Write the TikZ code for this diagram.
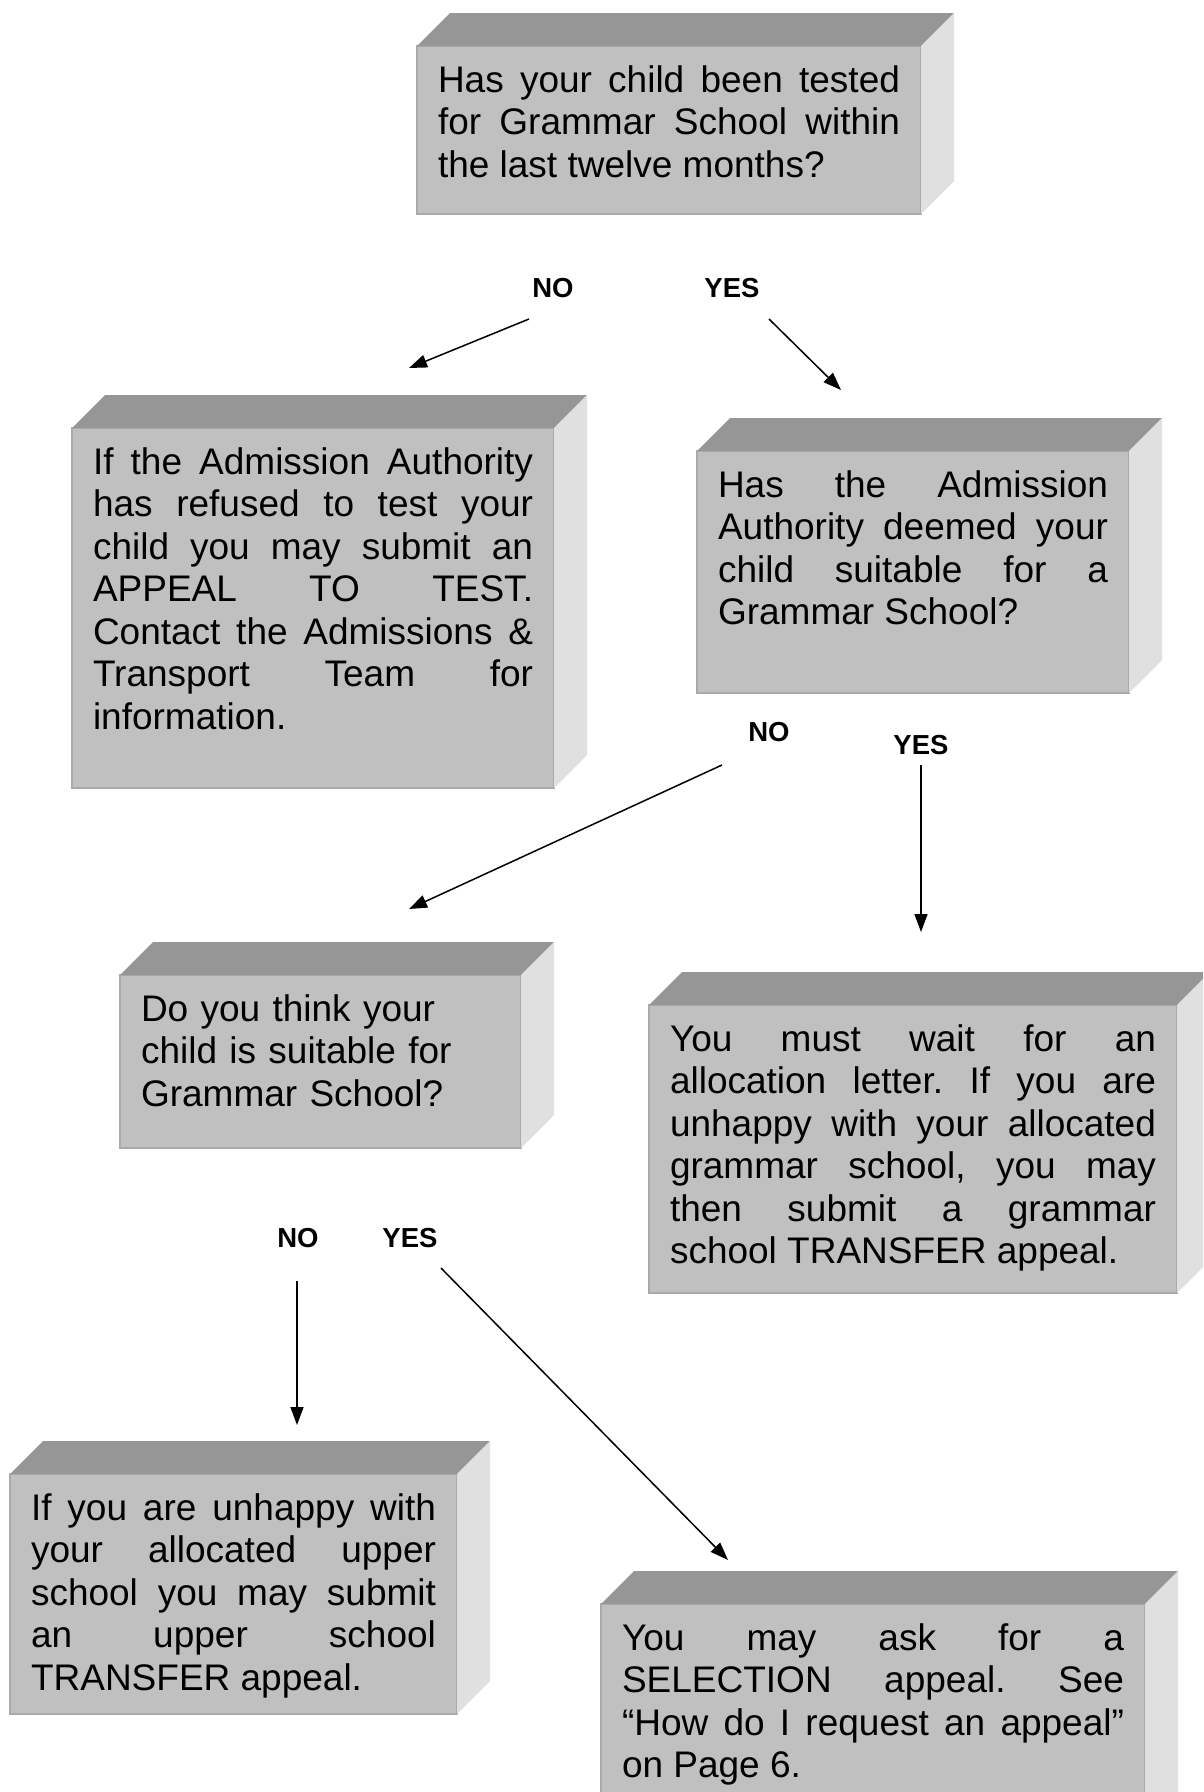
\documentclass[tikz,border=0pt]{standalone}
\usepackage{fontspec}
\setmainfont{Liberation Sans}
\usetikzlibrary{calc}
\usetikzlibrary{arrows.meta}
\definecolor{frontgray}{RGB}{192,192,192}
\definecolor{topgray}{RGB}{150,150,150}
\definecolor{sidegray}{RGB}{224,224,224}
\definecolor{edgegray}{RGB}{170,170,170}
\tolerance=10000
\hyphenpenalty=10000
\frenchspacing

\begin{document}
\begin{tikzpicture}[x=1pt, y=-1pt,
  panel/.style={fill=frontgray, draw=edgegray, line width=1.5pt, anchor=north west,
    inner xsep=21pt, inner ysep=0pt, outer sep=0pt, text height=46pt, align=justify,
    font=\fontsize{37}{42.5}\selectfont},
  answer/.style={font=\bfseries\fontsize{27.5}{33}\selectfont, inner sep=0pt},
  link/.style={line width=1.5pt, -{Triangle[length=18pt,width=13pt]}},
  topface/.style={fill=topgray},
  sideface/.style={fill=sidegray}]

  \useasboundingbox (0,0) rectangle (1203,1792);
  \clip (0,0) rectangle (1203,1792);

  \node[panel, text width=462pt, text depth=122pt] (test) at (417,46)
    {Has your child been tested\linebreak for Grammar School within\linebreak the last twelve months?};
  \node[panel, text width=440pt, text depth=314pt] (refused) at (72,428)
    {If the Admission Authority\linebreak has refused to test your\linebreak child you may submit an\linebreak
     APPEAL TO TEST.\linebreak Contact the Admissions \&\linebreak Transport Team for\linebreak information.};
  \node[panel, text width=390pt, text depth=196pt] (deemed) at (697,451)
    {Has the Admission\linebreak Authority deemed your\linebreak child suitable for a\linebreak Grammar School?};
  \node[panel, text width=359pt, text depth=127pt, align=left] (think) at (120,975)
    {Do you think your\\ child is suitable for\\ Grammar School?};
  \node[panel, text width=486pt, text depth=242pt] (wait) at (649,1005)
    {You must wait for an\linebreak allocation letter. If you are\linebreak unhappy with your allocated\linebreak
     grammar school, you may\linebreak then submit a grammar\linebreak school TRANSFER appeal.};
  \node[panel, text width=405pt, text depth=194pt] (upper) at (10,1474)
    {If you are unhappy with\linebreak your allocated upper\linebreak school you may submit\linebreak
     an upper school\linebreak TRANSFER appeal.};
  \node[panel, text width=502pt, text depth=180pt] (select) at (601,1604)
    {You may ask for a\linebreak SELECTION appeal. See\linebreak “How do I request an appeal”\linebreak on Page 6.};

  \foreach \p in {test,refused,deemed,think,wait,upper,select} {
    \fill[topface] (\p.north west) -- ++(33,-33) -- ($(\p.north east)+(33,-33)$) -- (\p.north east) -- cycle;
    \fill[sideface] (\p.north east) -- ++(33,-33) -- ($(\p.south east)+(33,-33)$) -- (\p.south east) -- cycle;
  }

  \node[answer] (no1) at (553,288) {NO};
  \node[answer] (yes1) at (732,288) {YES};
  \node[answer] (no2) at (769,732) {NO};
  \node[answer] (yes2) at (921,745) {YES};
  \node[answer] (no3) at (298,1238) {NO};
  \node[answer] (yes3) at (410,1238) {YES};

  \coordinate (no1s) at (529,319);
  \coordinate (no1e) at (409,368);
  \coordinate (yes1s) at (769,319);
  \coordinate (yes1e) at (841,390);
  \coordinate (no2s) at (722,765);
  \coordinate (no2e) at (409,909);
  \coordinate (yes2s) at (921,765);
  \coordinate (yes2e) at (921,932);
  \coordinate (no3s) at (297,1281);
  \coordinate (no3e) at (297,1425);
  \coordinate (yes3s) at (441,1268);
  \coordinate (yes3e) at (728,1560);

  \draw[link] (no1s) -- (no1e);
  \draw[link] (yes1s) -- (yes1e);
  \draw[link] (no2s) -- (no2e);
  \draw[link] (yes2s) -- (yes2e);
  \draw[link] (no3s) -- (no3e);
  \draw[link] (yes3s) -- (yes3e);
\end{tikzpicture}
\end{document}
